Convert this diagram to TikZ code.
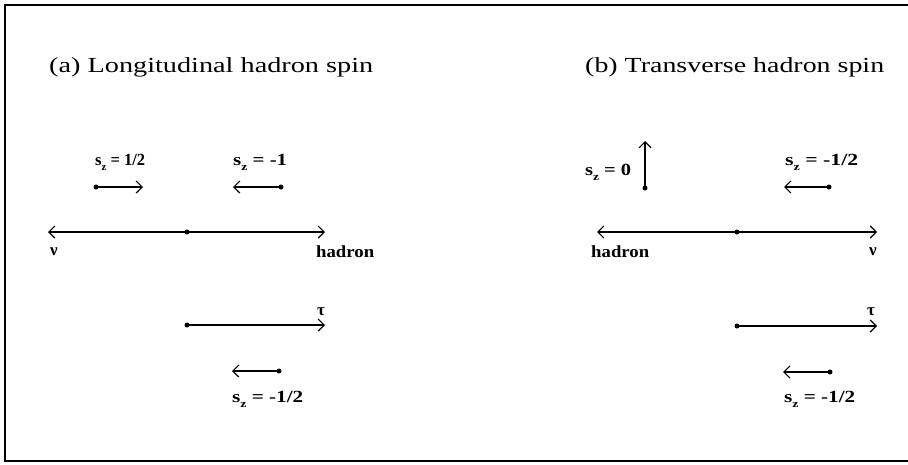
\documentclass[tikz,border=0pt]{standalone}
\usepackage{fontspec}
\usepackage{graphicx}
\usetikzlibrary{arrows.meta}
\setmainfont{Liberation Serif}
\newcommand{\fitw}[2]{\resizebox{#1}{\height}{#2}}
\newcommand{\szsym}{s\raisebox{-0.3em}{\fontsize{11}{11}\selectfont z}}
\begin{document}
\begin{tikzpicture}[x=1pt,y=-1pt,
  ln/.style={line width=1.2pt},
  arr/.style={ln,-{Straight Barb[length=6pt,width=12pt]}},
  dbl/.style={ln,{Straight Barb[length=6pt,width=12pt]}-{Straight Barb[length=6pt,width=12pt]}},
  dot/.style={circle,fill,inner sep=0pt,minimum size=5pt},
  ttl/.style={anchor=base west,inner sep=0pt,font=\fontsize{21.5}{26}\selectfont},
  lab/.style={anchor=base west,inner sep=0pt,font=\bfseries\fontsize{17}{20}\selectfont},
]
\useasboundingbox (0,0) rectangle (908,464);
% frame
\coordinate (fTR) at (908,5);
\coordinate (fTL) at (5,5);
\coordinate (fBL) at (5,461);
\coordinate (fBR) at (908,461);
\draw[ln] (fTR) -- (fTL) -- (fBL) -- (fBR);

% ---------- panel (a) ----------
\node[ttl] (ta) at (49,72) {\fitw{324pt}{(a) Longitudinal hadron spin}};
\node[lab] (la1) at (95,165) {\fitw{50pt}{\szsym{} = 1/2}};
\node[dot] (da1) at (96,187) {};
\coordinate (ha1) at (143,187);
\draw[arr] (da1.center) -- (ha1);
\node[lab] (la2) at (233,165) {\fitw{54pt}{\szsym{} = -1}};
\node[dot] (da2) at (281,187) {};
\coordinate (ha2) at (233,187);
\draw[arr] (da2.center) -- (ha2);
% main line
\coordinate (aL) at (48,232);
\coordinate (aR) at (325,232);
\node[dot] (aC) at (187,232) {};
\draw[dbl] (aL) -- (aR);
\node[lab] (anu) at (50,255) {ν};
\node[lab] (ahad) at (316,257) {\fitw{58pt}{hadron}};
% tau
\node[dot] (at0) at (187,325) {};
\coordinate (at1) at (325,325);
\draw[arr] (at0.center) -- (at1);
\node[lab] (atau) at (317,315) {τ};
% bottom spin
\node[dot] (da3) at (279,371) {};
\coordinate (ha3) at (232,371);
\draw[arr] (da3.center) -- (ha3);
\node[lab] (la3) at (232,402) {\fitw{71pt}{\szsym{} = -1/2}};

% ---------- panel (b) ----------
\node[ttl] (tb) at (585,72) {\fitw{299pt}{(b) Transverse hadron spin}};
\node[lab] (lb1) at (585,175) {\fitw{46pt}{\szsym{} = 0}};
\node[dot] (db1) at (645,188) {};
\coordinate (hb1) at (645,141);
\draw[arr] (db1.center) -- (hb1);
\node[lab] (lb2) at (785,165) {\fitw{73pt}{\szsym{} = -1/2}};
\node[dot] (db2) at (829,187) {};
\coordinate (hb2) at (784,187);
\draw[arr] (db2.center) -- (hb2);
% main line
\coordinate (bL) at (597,232);
\coordinate (bR) at (877,232);
\node[dot] (bC) at (737,232) {};
\draw[dbl] (bL) -- (bR);
\node[lab] (bhad) at (591,257) {\fitw{58pt}{hadron}};
\node[lab] (bnu) at (869,255) {ν};
% tau
\node[dot] (bt0) at (737,326) {};
\coordinate (bt1) at (877,326);
\draw[arr] (bt0.center) -- (bt1);
\node[lab] (btau) at (867,315) {τ};
% bottom spin
\node[dot] (db3) at (830,372) {};
\coordinate (hb3) at (783,372);
\draw[arr] (db3.center) -- (hb3);
\node[lab] (lb3) at (784,402) {\fitw{71pt}{\szsym{} = -1/2}};
\end{tikzpicture}
\end{document}
